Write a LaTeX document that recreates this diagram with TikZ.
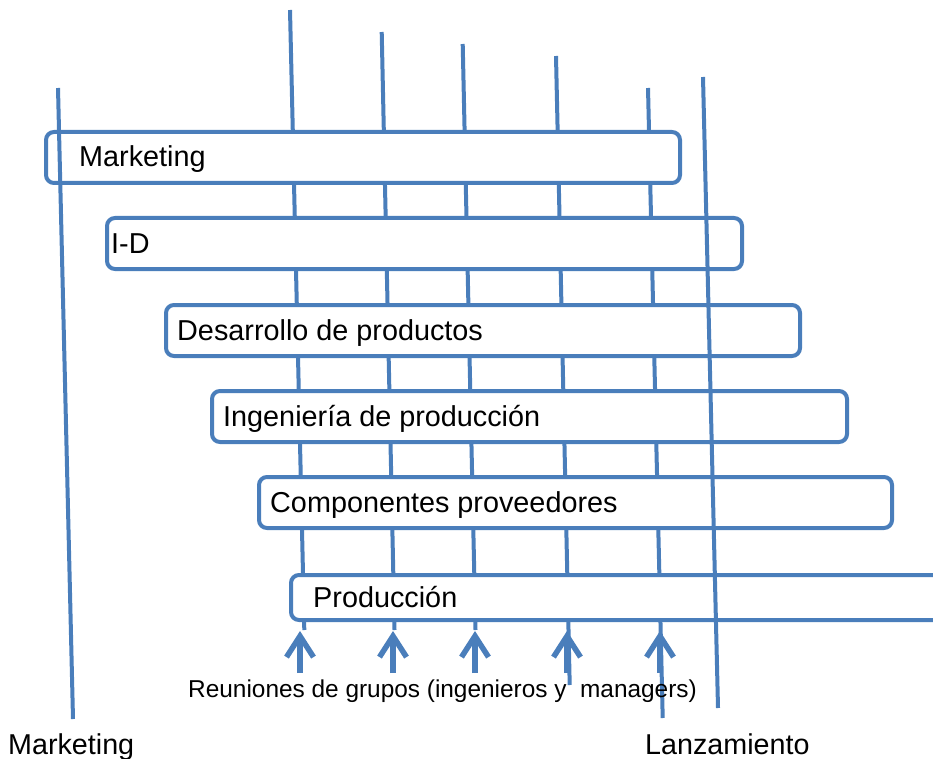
\documentclass[tikz,border=0pt]{standalone}
\usepackage{fontspec}
\setmainfont{Liberation Sans}
\usetikzlibrary{arrows.meta}
\definecolor{linkblue}{RGB}{74,126,187}
\begin{document}
\begin{tikzpicture}[x=1pt,y=-1pt,
  stage/.style={draw=linkblue, line width=4pt, fill=white, rounded corners=8pt,
                anchor=north west, inner sep=0pt, outer sep=0pt},
  stagetext/.style={anchor=base west, inner sep=0pt, font=\fontsize{28.8}{34}\selectfont},
  track/.style={draw=linkblue, line width=4pt},
  meeting/.style={draw=linkblue, line width=5.5pt,
                  -{Straight Barb[length=21pt,width=27pt]}},
  caption/.style={anchor=base west, inner sep=0pt, font=\fontsize{28.7}{34}\selectfont}
]
\useasboundingbox (0,0) rectangle (933,759);
\clip (0,0) rectangle (933,759);

% meeting tracks running down behind the stages
\coordinate (ta) at (290,10);   \coordinate (ba) at (304.3,630);
\coordinate (tb) at (381.7,32); \coordinate (bb) at (394.5,630);
\coordinate (tc) at (462.7,44); \coordinate (bc) at (475.5,630);
\coordinate (td) at (556,56);   \coordinate (bd) at (569.7,685);
\coordinate (te) at (648,88);   \coordinate (be) at (662.7,718);
\foreach \t/\b in {ta/ba,tb/bb,tc/bc,td/bd,te/be}
  \draw[track] (\t) -- (\b);

% stages
\node[stage, minimum width=634pt, minimum height=51pt] (mkt)  at (46,132)  {};
\node[stage, minimum width=635pt, minimum height=51pt] (id)   at (107,218) {};
\node[stage, minimum width=634pt, minimum height=51pt] (des)  at (166,305) {};
\node[stage, minimum width=635pt, minimum height=51pt] (ing)  at (212,391) {};
\node[stage, minimum width=633pt, minimum height=51pt] (comp) at (259,477) {};
\node[stage, minimum width=680pt, minimum height=45pt] (prod) at (291,575) {};

\node[stagetext] (mkttxt)  at (79,167)  {Marketing};
\node[stagetext] (idtxt)   at (111,253) {I-D};
\node[stagetext] (destxt)  at (177,340) {Desarrollo de productos};
\node[stagetext] (ingtxt)  at (223,426) {Ingeniería de producción};
\node[stagetext] (comptxt) at (270,512) {Componentes proveedores};
\node[stagetext] (prodtxt) at (313,607) {Producción};

% start and launch lines
\coordinate (mtop) at (58,88);   \coordinate (mbot) at (73,719);
\coordinate (ltop) at (703,77);  \coordinate (lbot) at (718,708);
\draw[track] (mtop) -- (mbot);
\draw[track] (ltop) -- (lbot);

% group meetings
\foreach \n/\x in {1/300,2/393,3/475,4/567,5/660}{
  \coordinate (m\n) at (\x,673);
  \coordinate (h\n) at (\x,631);
  \draw[meeting] (m\n) -- (h\n);
}

\node[anchor=base west, inner sep=0pt, font=\fontsize{24.4}{29}\selectfont] (meet)
  at (188,697) {Reuniones de grupos (ingenieros y~ managers)};

\node[caption] (mktcap) at (8,754)   {Marketing};
\node[caption] (lzcap)  at (645,754) {Lanzamiento};
\end{tikzpicture}
\end{document}
